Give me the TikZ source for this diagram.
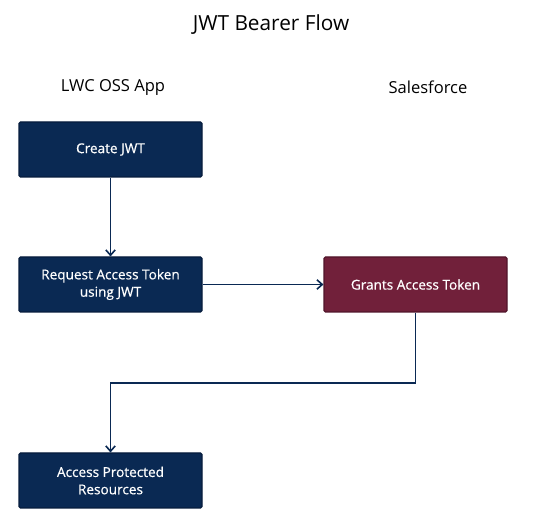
\documentclass[tikz,border=0pt]{standalone}
\usepackage{fontspec}
\setmainfont{Open Sans}
\newfontfamily\boxfont[FakeBold=0.6]{Open Sans}
\usetikzlibrary{arrows.meta}
\definecolor{navy}{HTML}{0A2953}
\definecolor{navyb}{HTML}{061C3C}
\definecolor{maroon}{HTML}{71203A}
\definecolor{maroonb}{HTML}{50142A}
\definecolor{lineblue}{HTML}{0A2953}
\begin{document}
\begin{tikzpicture}[x=0.75pt,y=-0.75pt,
  box/.style={draw=navyb, fill=navy, line width=0.8pt, rounded corners=1pt, minimum width=183*0.75pt, minimum height=55*0.75pt, text=white, align=center, font=\boxfont\fontsize{10.2}{13}\selectfont, inner sep=0pt},
  redbox/.style={box, draw=maroonb, fill=maroon},
  conn/.style={draw=lineblue, line width=1.3pt, -{Straight Barb[length=4pt,width=7pt,line width=1.2pt]}},
  lbl/.style={font=\fontsize{12.4}{14}\selectfont, text=black},
  ttl/.style={font=\fontsize{15.6}{18}\selectfont, text=black}]
\useasboundingbox (0,0) rectangle (540,527);
\node[ttl] (title) at (271,25) {JWT Bearer Flow};
\node[lbl] (lwc) at (113,87) {LWC OSS App};
\node[lbl] (sf) at (428,87) {Salesforce};
\node[box] (create) at (110.5,149.5) {Create JWT};
\node[box] (request) at (110.5,284.5) {Request Access Token\\using JWT};
\node[redbox] (grants) at (415.5,284.5) {Grants Access Token};
\node[box] (access) at (110.5,480.5) {Access Protected\\Resources};
\coordinate (c1) at (415.5,383);
\coordinate (c2) at (110.5,383);
\draw[conn] (create) -- (request);
\draw[conn] (request) -- (grants);
\draw[conn] (grants.south) -- (c1) -- (c2) -- (access.north);
\end{tikzpicture}
\end{document}
